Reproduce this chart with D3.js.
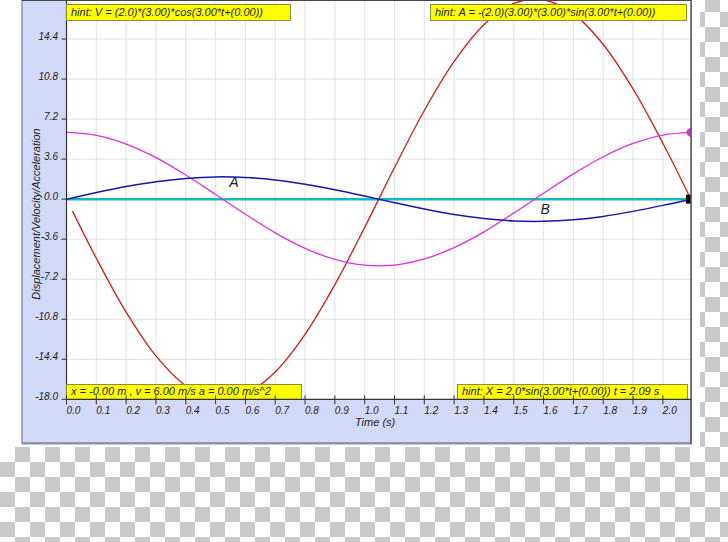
<!DOCTYPE html>
<html><head><meta charset="utf-8">
<script src="https://cdn.jsdelivr.net/npm/d3@7"></script>
<style>html,body{margin:0;padding:0;background:#fff;}svg{display:block;}</style>
</head><body>
<script>
// ---- data ----
const times = [0,0.1,0.2,0.3,0.4,0.5,0.6,0.7,0.8,0.9,1.0,1.1,1.2,1.3,1.4,1.5,1.6,1.7,1.8,1.9,2.0,2.094];
const displacement = [0,0.59,1.13,1.57,1.86,2.00,1.95,1.73,1.35,0.85,0.28,-0.32,-0.89,-1.38,-1.74,-1.96,-1.99,-1.85,-1.55,-1.10,-0.56,0];
const velocity = [6.00,5.73,4.95,3.73,2.17,0.42,-1.36,-3.03,-4.42,-5.42,-5.94,-5.93,-5.38,-4.36,-2.94,-1.26,0.53,2.27,3.81,5.01,5.76,6.00];
const timesAcc = [0.02,0.1,0.2,0.3,0.4,0.5,0.6,0.7,0.8,0.9,1.0,1.1,1.2,1.3,1.4,1.5,1.6,1.7,1.8,1.9,2.0,2.094];
const acceleration = [-1.08,-5.32,-10.16,-14.10,-16.78,-17.96,-17.53,-15.54,-12.16,-7.69,-2.54,2.84,7.97,12.38,15.69,17.60,17.93,16.66,13.91,9.91,5.03,0];
const zeroLine = [0,0];
const zeroTimes = [0,2.094];
const xTicks = [0,0.1,0.2,0.3,0.4,0.5,0.6,0.7,0.8,0.9,1.0,1.1,1.2,1.3,1.4,1.5,1.6,1.7,1.8,1.9,2.0];
const yTicks = [14.4,10.8,7.2,3.6,0.0,-3.6,-7.2,-10.8,-14.4,-18.0];
const xDomain = [0,2.0944];
const yDomain = [-18,18];
const hints = {
  topLeft: "hint: V = (2.0)*(3.00)*cos(3.00*t+(0.00))",
  topRight: "hint: A = -(2.0)(3.00)*(3.00)*sin(3.00*t+(0.00))",
  bottomLeft: "x = -0.00 m , v = 6.00 m/s a = 0.00 m/s^2",
  bottomRight: "hint: X = 2.0*sin(3.00*t+(0.00)) t = 2.09 s"
};
const curveLabels = [{text:"A", t:0.546, v:1.05}, {text:"B", t:1.59, v:-1.35}];
const xTitle = "Time (s)";
const yTitle = "Displacement/Velocity/Acceleration";

// ---- drawing ----
(function(){
const W = 728, H = 542;
const FONT = "'Liberation Sans', Arial, sans-serif";
const svg = d3.select("body").append("svg").attr("width", W).attr("height", H);
const defs = svg.append("defs");
const pat = defs.append("pattern").attr("id","chk").attr("patternUnits","userSpaceOnUse")
  .attr("x",0).attr("y",12).attr("width",30).attr("height",30);
pat.append("rect").attr("width",30).attr("height",30).attr("fill","#ffffff");
pat.append("rect").attr("x",0).attr("y",0).attr("width",15).attr("height",15).attr("fill","#c9c9c9");
pat.append("rect").attr("x",15).attr("y",15).attr("width",15).attr("height",15).attr("fill","#c9c9c9");
svg.append("rect").attr("width",W).attr("height",H).attr("fill","url(#chk)");
svg.append("rect").attr("width",700).attr("height",447).attr("fill","#ffffff");

const pL = 66.5, pR = 691, pT = -1, pB = 399.3;
// panel
svg.append("rect").attr("x",22).attr("y",-5).attr("width",pR-22).attr("height",443+5)
  .attr("fill","#d3d9f8").attr("stroke","#8a90a8").attr("stroke-width",1.5);
svg.append("line").attr("x1",22).attr("x2",692).attr("y1",443.5).attr("y2",443.5)
  .attr("stroke","#8c92a6").attr("stroke-width",2);

const x = d3.scaleLinear().domain(xDomain).range([pL,pR]);
const y = d3.scaleLinear().domain(yDomain).range([pB,pT]);

// plot area
svg.append("rect").attr("x",pL).attr("y",pT).attr("width",pR-pL).attr("height",pB-pT).attr("fill","#ffffff");
defs.append("clipPath").attr("id","clip").append("rect")
  .attr("x",pL).attr("y",pT).attr("width",pR-pL).attr("height",pB-pT);

// grid
const grid = svg.append("g");
grid.selectAll(".vg").data(xTicks.slice(1)).join("line")
  .attr("x1",d=>x(d)).attr("x2",d=>x(d)).attr("y1",pT).attr("y2",pB)
  .attr("stroke","#e2e2e2").attr("stroke-width",1);
grid.selectAll(".hg").data(yTicks.slice(0,-1)).join("line")
  .attr("x1",pL).attr("x2",pR).attr("y1",d=>y(d)).attr("y2",d=>y(d))
  .attr("stroke","#e2e2e2").attr("stroke-width",1);

const plot = svg.append("g").attr("clip-path","url(#clip)");
const line = (ts) => d3.line().x((d,i)=>x(ts[i])).y(d=>y(d)).curve(d3.curveCatmullRom);
plot.append("path").datum(zeroLine).attr("d",line(zeroTimes)).attr("fill","none").attr("stroke","#12b8c8").attr("stroke-width",2.5);
plot.append("path").datum(acceleration).attr("d",line(timesAcc)).attr("fill","none").attr("stroke","#d41c1c").attr("stroke-width",1.3);
plot.append("path").datum(velocity).attr("d",line(times)).attr("fill","none").attr("stroke","#e22ee2").attr("stroke-width",1.3);
plot.append("path").datum(displacement).attr("d",line(times)).attr("fill","none").attr("stroke","#1418b0").attr("stroke-width",1.5);
plot.append("circle").attr("cx",x(xDomain[1])).attr("cy",y(velocity[velocity.length-1])).attr("r",4.5).attr("fill","#e22ee2");
plot.append("rect").attr("x",x(xDomain[1])-5).attr("y",y(displacement[displacement.length-1])-4.5).attr("width",10).attr("height",9).attr("fill","#000");

// curve labels
svg.selectAll(".cl").data(curveLabels).join("text")
  .attr("x",d=>x(d.t)).attr("y",d=>y(d.v)).attr("font-family",FONT).attr("font-style","italic")
  .attr("font-size",14).attr("fill","#222").text(d=>d.text);

// axes lines
svg.append("line").attr("x1",pL).attr("x2",pL).attr("y1",pT).attr("y2",pB).attr("stroke","#333").attr("stroke-width",1.2);
svg.append("line").attr("x1",pR).attr("x2",pR).attr("y1",-2).attr("y2",444).attr("stroke","#555").attr("stroke-width",1.5);
svg.append("line").attr("x1",22).attr("x2",pR).attr("y1",0.5).attr("y2",0.5).attr("stroke","#444").attr("stroke-width",1.2);

// hint boxes
function hintBox(x0,y0,w,h,text){
  const g = svg.append("g");
  g.append("rect").attr("x",x0+0.5).attr("y",y0+0.5).attr("width",w).attr("height",h)
    .attr("fill","#ffff00").attr("stroke","#8a8a40").attr("stroke-width",1);
  g.append("text").attr("x",x0+5).attr("y",y0+h-4).attr("font-family",FONT).attr("font-style","italic")
    .attr("font-size",11).attr("fill","#222").text(text);
}
hintBox(66,4,224,16,hints.topLeft);
hintBox(430,4,256,16,hints.topRight);
hintBox(66,384,235,15,hints.bottomLeft);
hintBox(457,384,230,15,hints.bottomRight);

svg.append("line").attr("x1",pL).attr("x2",pR).attr("y1",pB).attr("y2",pB).attr("stroke","#333").attr("stroke-width",1.2);

// x ticks
const xa = svg.append("g");
xa.selectAll("line").data(xTicks).join("line")
  .attr("x1",d=>x(d)).attr("x2",d=>x(d)).attr("y1",pB-4).attr("y2",pB+5)
  .attr("stroke","#333").attr("stroke-width",1);
xa.selectAll("text").data(xTicks).join("text")
  .attr("x",d=>x(d)).attr("y",413.5).attr("font-family",FONT).attr("font-style","italic")
  .attr("font-size",10).attr("fill","#222").text(d=>d.toFixed(1));
// y ticks
const ya = svg.append("g");
ya.selectAll("line").data(yTicks).join("line")
  .attr("x1",pL-5).attr("x2",pL).attr("y1",d=>y(d)).attr("y2",d=>y(d))
  .attr("stroke","#333").attr("stroke-width",1);
ya.selectAll("text").data(yTicks).join("text")
  .attr("x",58).attr("y",d=>y(d)+1).attr("text-anchor","end").attr("font-family",FONT).attr("font-style","italic")
  .attr("font-size",10).attr("fill","#222").text(d=>d.toFixed(1));

// titles
svg.append("text").attr("x",355).attr("y",426).attr("font-family",FONT).attr("font-style","italic")
  .attr("font-size",11).attr("fill","#222").text(xTitle);
svg.append("text").attr("transform","translate(40,214) rotate(-90)").attr("text-anchor","middle")
  .attr("font-family",FONT).attr("font-style","italic").attr("font-size",11).attr("fill","#222").text(yTitle);
})();
</script>
</body></html>
